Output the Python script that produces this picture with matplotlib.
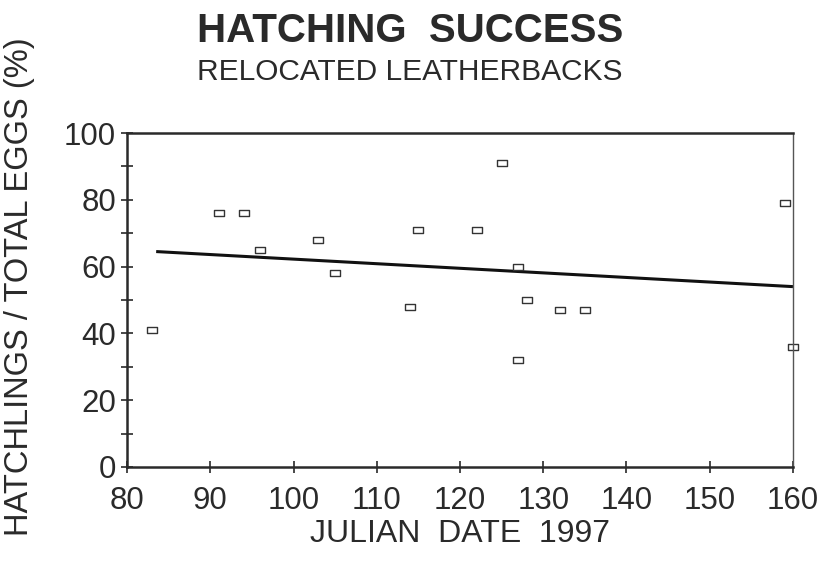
import numpy as np
import matplotlib.pyplot as plt
from matplotlib.path import Path
from matplotlib.ticker import MultipleLocator

plt.rcParams['font.family'] = ['Liberation Sans', 'DejaVu Sans']

# julian day vs hatching success (%) for relocated nests
julian_day = [83, 91, 94, 96, 103, 105, 114, 115, 122, 125, 127, 127, 128, 132, 135, 159, 160]
success_pct = [41, 76, 76, 65, 68, 58, 48, 71, 71, 91, 60, 32, 50, 47, 47, 79, 36]

# regression line ends
trend_x = [83.5, 160]
trend_y = [64.5, 54]

ink = '#2a2a2a'

# wide open rectangle marker
rect = Path([(-0.7, -0.45), (0.7, -0.45), (0.7, 0.45), (-0.7, 0.45), (-0.7, -0.45)],
            [Path.MOVETO, Path.LINETO, Path.LINETO, Path.LINETO, Path.CLOSEPOLY])

fig = plt.figure(figsize=(8.18, 5.65), dpi=100)
ax = fig.add_axes([0.1553, 0.1735, 0.8141, 0.5911])

ax.plot(trend_x, trend_y, color='#111111', lw=2.2, solid_capstyle='butt')
ax.plot(julian_day, success_pct, ls='none', marker=rect, ms=7.5,
        mfc='white', mec='#333333', mew=1.0, clip_on=False)

ax.set_xlim(80, 160)
ax.set_ylim(0, 100)
ax.xaxis.set_major_locator(MultipleLocator(10))
ax.yaxis.set_major_locator(MultipleLocator(20))
ax.yaxis.set_minor_locator(MultipleLocator(10))
ax.tick_params(which='both', direction='inout', length=8, width=1.2, color=ink,
               labelsize=22.5, labelcolor=ink, pad=4)
ax.tick_params(axis='x', pad=10)

for side in ['left', 'bottom', 'top']:
    ax.spines[side].set_linewidth(1.8)
    ax.spines[side].set_color(ink)
ax.spines['right'].set_linewidth(1.0)
ax.spines['right'].set_color('#555555')

ax.set_xlabel('JULIAN  DATE  1997', fontsize=23, color=ink, labelpad=2)
ax.set_ylabel('HATCHLINGS / TOTAL EGGS (%)', fontsize=23.5, color=ink, va='center')
ax.yaxis.set_label_coords(-0.162, 0.54)

fig.text(0.501, 0.945, 'HATCHING  SUCCESS', ha='center', va='center',
         fontsize=29, fontweight='bold', color=ink)
fig.text(0.501, 0.872, 'RELOCATED LEATHERBACKS', ha='center', va='center',
         fontsize=21.5, color=ink)

fig.savefig('out.png', dpi=100)
